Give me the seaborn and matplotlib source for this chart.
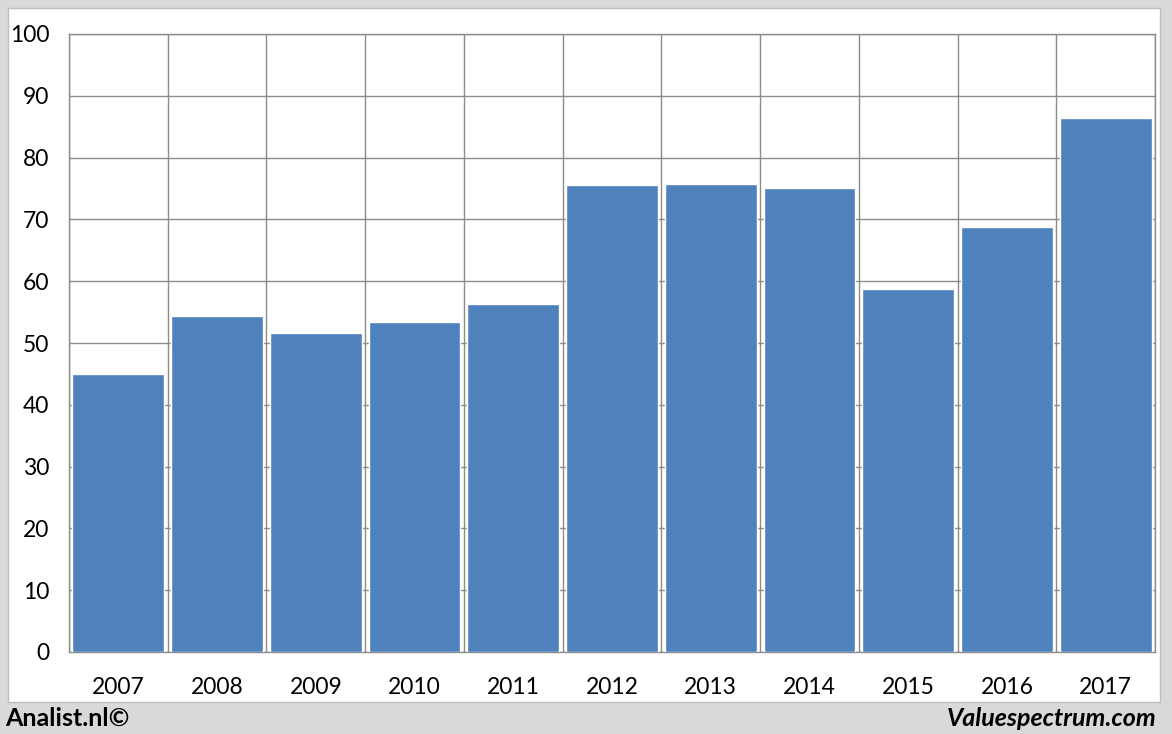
import numpy as np
import matplotlib.pyplot as plt
import seaborn as sns
from matplotlib.patches import Rectangle

years = ['2007', '2008', '2009', '2010', '2011', '2012', '2013', '2014', '2015', '2016', '2017']
values = [45.0, 54.4, 51.6, 53.4, 56.3, 75.6, 75.7, 75.1, 58.7, 68.8, 86.4]
yticks = list(range(0, 101, 10))

sns.set_style('white')
plt.rcParams['font.family'] = ['Lato', 'DejaVu Sans']

fig = plt.figure(figsize=(11.72, 7.34), dpi=100, facecolor='#d9d9d9')
# white panel inside grey frame, kept behind the axes
fig.patches.append(Rectangle((8 / 1172, 1 - 702 / 734), 1152 / 1172, 694 / 734,
                             transform=fig.transFigure, facecolor='white',
                             edgecolor='#bfbfbf', linewidth=1, zorder=-5))

ax = fig.add_axes([69 / 1172, 1 - 652 / 734, 1086 / 1172, 618 / 734])
ax.set_facecolor('none')

sns.barplot(x=years, y=values, color='#4f81bd', saturation=1, width=0.93,
            edgecolor='white', linewidth=1, ax=ax, zorder=3)

ax.set_xlim(-0.5, len(years) - 0.5)
ax.set_ylim(0, 100)
ax.set_yticks(yticks)
ax.set_xticks(np.arange(-0.5, len(years), 1), minor=True)

ax.grid(True, axis='y', which='major', color='#8c8c8c', linewidth=1, zorder=0)
ax.grid(True, axis='x', which='minor', color='#8c8c8c', linewidth=1, zorder=0)
ax.grid(False, axis='x', which='major')
ax.set_axisbelow(True)

ax.tick_params(axis='x', which='major', length=0, labelsize=16.5, pad=18, colors='black')
ax.tick_params(axis='x', which='minor', length=8, color='#8c8c8c', width=1)
ax.tick_params(axis='y', which='major', length=8, color='#8c8c8c', width=1,
               labelsize=16.5, pad=6, labelcolor='black')

for side in ['left', 'bottom', 'top', 'right']:
    ax.spines[side].set_color('#8c8c8c')
    ax.spines[side].set_linewidth(1)

ax.set_xlabel('')
ax.set_ylabel('')

fig.text(5 / 1172, 1 - 718 / 734, 'Analist.nl©', fontsize=18, fontweight='bold',
         ha='left', va='center', color='black')
fig.text(1157 / 1172, 1 - 718 / 734, 'Valuespectrum.com', fontsize=18,
         fontweight='bold', fontstyle='italic', ha='right', va='center', color='black')

fig.savefig('out.png', dpi=100, facecolor=fig.get_facecolor())
